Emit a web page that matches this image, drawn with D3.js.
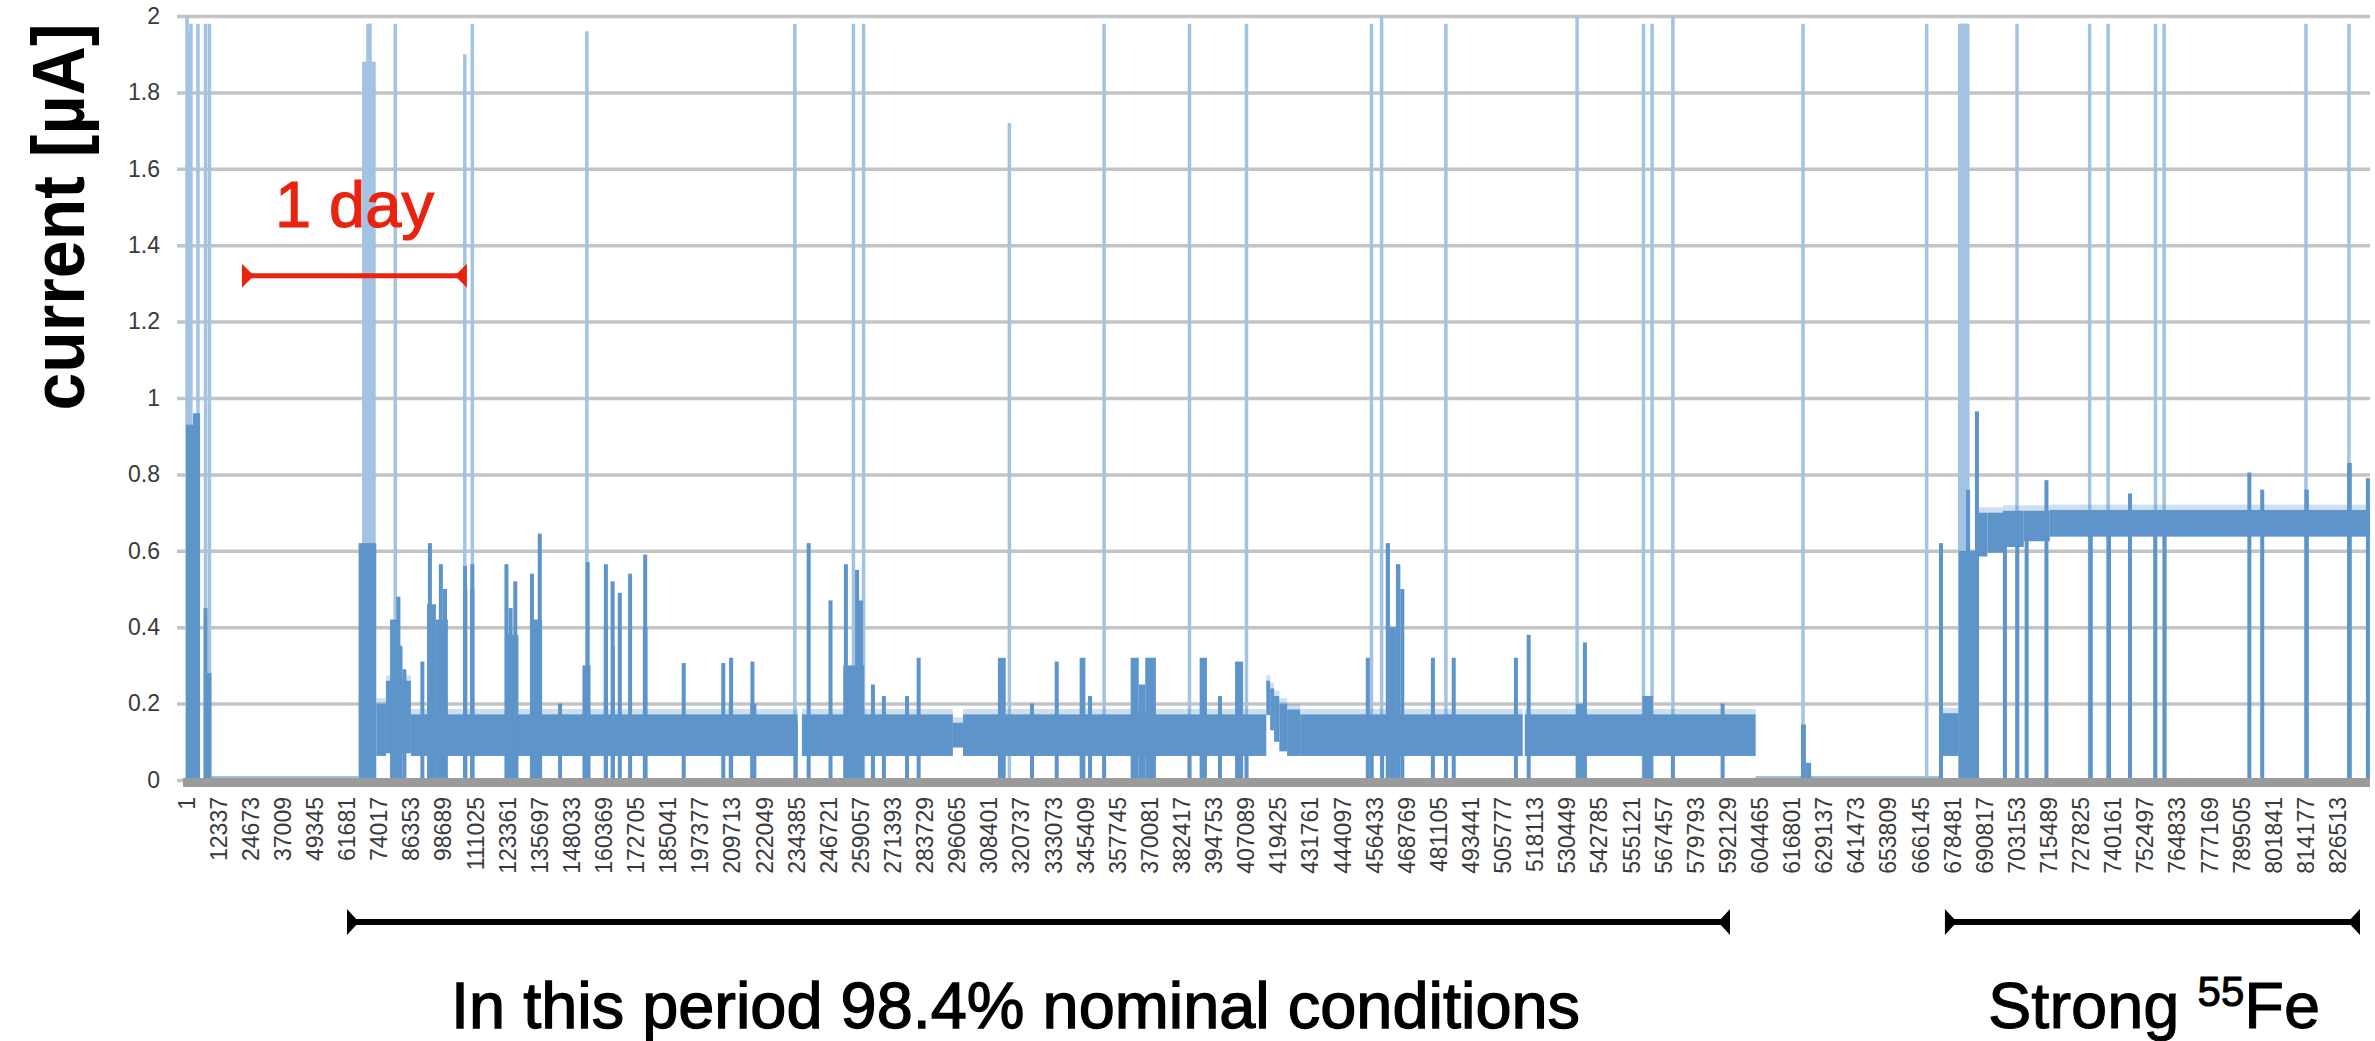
<!DOCTYPE html>
<html>
<head>
<meta charset="utf-8">
<script src="https://cdn.jsdelivr.net/npm/d3@7/dist/d3.min.js"></script>
<style>
  html, body { margin: 0; padding: 0; background: #ffffff; }
  svg { display: block; }
  text { font-family: "Liberation Sans", Arial, Helvetica, sans-serif; }
</style>
</head>
<body>
<svg id="chart" width="2375" height="1041"></svg>
<script>
// ---- data: detector current, one reading per second ----
const sampleCount = 839000;

// category labels printed under the axis (every 12336 readings)
const tickLabels = [1, 12337, 24673, 37009, 49345, 61681, 74017, 86353, 98689, 111025,
  123361, 135697, 148033, 160369, 172705, 185041, 197377, 209713, 222049, 234385,
  246721, 259057, 271393, 283729, 296065, 308401, 320737, 333073, 345409, 357745,
  370081, 382417, 394753, 407089, 419425, 431761, 444097, 456433, 468769, 481105,
  493441, 505777, 518113, 530449, 542785, 555121, 567457, 579793, 592129, 604465,
  616801, 629137, 641473, 653809, 666145, 678481, 690817, 703153, 715489, 727825,
  740161, 752497, 764833, 777169, 789505, 801841, 814177, 826513];

const currentTicks = [0, 0.2, 0.4, 0.6, 0.8, 1, 1.2, 1.4, 1.6, 1.8, 2];

// dense noise band of the readings: [first sample, last sample, low µA, high µA]
const noiseBand = [
  [73100, 76800, 0.063, 0.20],
  [76800, 79000, 0.07, 0.26],
  [79000, 83000, 0.08, 0.34],
  [83000, 86400, 0.07, 0.26],
  [86400, 235000, 0.063, 0.172],
  [236600, 294600, 0.063, 0.172],
  [294600, 298500, 0.085, 0.15],
  [298500, 415000, 0.063, 0.172],
  [415000, 416500, 0.17, 0.26],
  [416500, 418000, 0.13, 0.24],
  [418000, 420000, 0.10, 0.22],
  [420000, 423000, 0.075, 0.20],
  [423000, 428000, 0.063, 0.185],
  [428000, 513500, 0.063, 0.172],
  [514300, 603000, 0.063, 0.172],
  [674600, 681000, 0.063, 0.175],
  [688800, 692000, 0.585, 0.70],
  [692000, 698000, 0.595, 0.70],
  [698000, 706000, 0.61, 0.705],
  [706000, 716000, 0.625, 0.705],
  [716000, 839000, 0.637, 0.707]
];

// stretches where the reading sat at zero: [first sample, last sample]
const zeroRuns = [[9800, 66300], [603000, 674200]];

// dense bursts reaching from 0 up to a peak: [first sample, last sample, peak µA]
const bursts = [
  [0, 2700, 0.93], [2700, 5400, 0.96], [6900, 9800, 0.28], [7300, 7700, 0.45],
  [66300, 73100, 0.62],
  [78400, 81600, 0.42], [81600, 81600, 0.48], [82400, 82400, 0.35], [83900, 83900, 0.29],
  [90800, 90800, 0.31],
  [92600, 96000, 0.46], [93700, 93700, 0.62],
  [96000, 100600, 0.42], [97900, 97900, 0.565], [99500, 99500, 0.50],
  [106600, 108000, 0.50], [107200, 107200, 0.56],
  [109200, 110800, 0.50], [110000, 110000, 0.565],
  [122900, 127700, 0.38], [123100, 123100, 0.565], [124700, 124700, 0.45], [126500, 126500, 0.52],
  [132600, 136800, 0.42], [132900, 132900, 0.54], [135900, 135900, 0.645],
  [143700, 143700, 0.20],
  [152300, 155400, 0.30], [154300, 154300, 0.57],
  [160500, 162100, 0.40], [161300, 161300, 0.565],
  [163500, 164500, 0.35], [163900, 163900, 0.52],
  [166300, 167000, 0.49],
  [170200, 171000, 0.54],
  [175500, 177300, 0.40], [176400, 176400, 0.59],
  [191200, 191200, 0.306],
  [206400, 206400, 0.306], [208500, 210100, 0.20], [209400, 209400, 0.32],
  [216800, 219100, 0.20], [217600, 217600, 0.31],
  [233500, 235000, 0.15], [239200, 239200, 0.62],
  [247600, 247600, 0.47], [252500, 260500, 0.30], [253500, 253500, 0.565],
  [257800, 257800, 0.55], [259300, 259300, 0.47],
  [263900, 263900, 0.25], [268100, 268100, 0.22], [277000, 277000, 0.22],
  [280900, 282000, 0.32],
  [311900, 314900, 0.32],
  [325000, 325000, 0.20],
  [334500, 334500, 0.31],
  [343300, 345500, 0.32], [347300, 347300, 0.22],
  [352700, 352700, 0.17],
  [362900, 366000, 0.32], [366000, 368500, 0.25], [368500, 372600, 0.32],
  [385200, 385800, 0.17],
  [389400, 392200, 0.32],
  [397200, 397200, 0.22],
  [403000, 406100, 0.31],
  [407400, 407400, 0.17],
  [454000, 454000, 0.32], [455000, 456000, 0.17], [459000, 460000, 0.17],
  [460900, 462500, 0.62], [462500, 464800, 0.40], [464800, 466500, 0.565], [466500, 468000, 0.50],
  [479000, 479000, 0.32], [483500, 484500, 0.17], [487000, 487000, 0.32],
  [510900, 510900, 0.32], [515800, 515800, 0.38],
  [534000, 537400, 0.20], [537400, 537400, 0.36],
  [559500, 563500, 0.22],
  [570800, 571600, 0.17],
  [590300, 590300, 0.20],
  [620400, 622300, 0.145], [622300, 624300, 0.045],
  [674200, 674200, 0.62],
  [681000, 684800, 0.60], [684600, 684600, 0.76],
  [684800, 688800, 0.60], [688000, 688000, 0.965],
  [698000, 699500, 0.66], [703000, 704000, 0.66], [707100, 707100, 0.66],
  [714700, 714700, 0.785], [730800, 732500, 0.66], [737800, 739500, 0.66],
  [746800, 746800, 0.75], [755800, 757200, 0.66], [759500, 760700, 0.66],
  [792300, 793000, 0.805], [797600, 797600, 0.76],
  [813800, 815500, 0.76], [830200, 832000, 0.83], [838200, 838200, 0.79]
];

// isolated single readings that shot up: [sample, peak µA]
const spikes = [
  [400, 2.0], [1150, 1.96], [1900, 1.98], [4600, 1.98], [7500, 1.98], [9000, 1.98],
  [68300, 1.88], [69100, 1.88], [69900, 1.98], [70700, 1.98], [71500, 1.88], [72200, 1.88],
  [80400, 1.98], [107100, 1.90], [110000, 1.98], [154000, 1.96], [233900, 1.98],
  [256400, 1.98], [260300, 1.98], [316300, 1.72], [352700, 1.98], [385500, 1.98],
  [407400, 1.98], [455400, 1.98], [459300, 2.0], [484000, 1.98], [534400, 2.0],
  [559900, 1.98], [563200, 1.98], [571200, 2.0], [621200, 1.98], [668700, 1.98],
  [681400, 1.98], [682200, 1.98], [683000, 1.98], [683800, 1.98], [684500, 1.98],
  [703400, 1.98], [731300, 1.98], [738400, 1.98], [756600, 1.98], [759900, 1.98],
  [814400, 1.98], [830900, 1.98]
];

// annotations (in readings): one day = 86400 one-second readings
const dayMarker = { start: 21500, length: 86400, level: 1.32, textLevel: 1.447, label: "1 day" };
const periods = [
  { start: 61850, end: 593150, label: "In this period 98.4% nominal conditions" },
  { start: 675700, end: 835150, label: "Strong", sup: "55", tail: "Fe" }
];

// ---- drawing ----
const svg = d3.select("#chart");
const x = d3.scaleLinear().domain([0, sampleCount]).range([186, 2370]);
const y = d3.scaleLinear().domain([0, 2]).range([780, 16]);
const blue = "#5d94c9";
const lightBlue = "#a3c3e3";

// horizontal gridlines
const grid = svg.append("g").attr("transform", "translate(177,0)")
  .call(d3.axisLeft(y).tickValues(currentTicks).tickSize(-(2370 - 177)).tickFormat(""));
grid.select(".domain").remove();
grid.selectAll(".tick line").attr("stroke", "#c4c4c4").attr("stroke-width", 3.5);

// tall single-reading spikes
svg.append("g").selectAll("line").data(spikes).join("line")
  .attr("x1", d => x(d[0])).attr("x2", d => x(d[0]))
  .attr("y1", y(0)).attr("y2", d => y(d[1]))
  .attr("stroke", lightBlue).attr("stroke-width", 3.5);

// readings sitting at zero
svg.append("g").selectAll("line").data(zeroRuns).join("line")
  .attr("x1", d => x(d[0])).attr("x2", d => x(d[1]))
  .attr("y1", y(0)).attr("y2", y(0))
  .attr("stroke", "#9dbfe0").attr("stroke-width", 8);

// noise band, with a ragged fringe above it
svg.append("g").selectAll("rect").data(noiseBand).join("rect")
  .attr("x", d => x(d[0])).attr("width", d => x(d[1]) - x(d[0]))
  .attr("y", d => y(d[3] + 0.014)).attr("height", d => y(d[3]) - y(d[3] + 0.014))
  .attr("fill", blue).attr("opacity", 0.3);
svg.append("g").selectAll("rect").data(noiseBand).join("rect")
  .attr("x", d => x(d[0])).attr("width", d => x(d[1]) - x(d[0]))
  .attr("y", d => y(d[3])).attr("height", d => y(d[2]) - y(d[3]))
  .attr("fill", blue);

// bursts reaching down to zero
svg.append("g").selectAll("rect").data(bursts).join("rect")
  .attr("x", d => Math.min(x(d[0]), (x(d[0]) + x(d[1])) / 2 - 2))
  .attr("width", d => Math.max(x(d[1]) - x(d[0]), 4))
  .attr("y", d => y(d[2])).attr("height", d => y(0) - y(d[2]))
  .attr("fill", blue);

// category axis bar
svg.append("rect").attr("x", 183).attr("width", 2370 - 183)
  .attr("y", 778).attr("height", 9).attr("fill", "#9b9b9b");

// y tick labels
const yAxis = svg.append("g").attr("transform", "translate(160,0)")
  .call(d3.axisLeft(y).tickValues(currentTicks).tickSize(0).tickPadding(0)
    .tickFormat(d => String(+d.toFixed(1))));
yAxis.select(".domain").remove();
yAxis.selectAll("text").attr("font-size", 23).attr("fill", "#3a3a3a")
  .attr("font-family", "Liberation Sans, Arial, sans-serif");

// x tick labels, rotated
const xAxis = svg.append("g").attr("transform", "translate(0,797)")
  .call(d3.axisBottom(x).tickValues(tickLabels).tickSize(0).tickFormat(d => String(d)));
xAxis.select(".domain").remove();
xAxis.selectAll("text")
  .attr("y", 0).attr("x", 0).attr("dy", "0.35em")
  .attr("transform", "rotate(-90)").attr("text-anchor", "end")
  .attr("font-size", 23).attr("fill", "#3a3a3a")
  .attr("font-family", "Liberation Sans, Arial, sans-serif");

// y axis title (slightly condensed bold face)
svg.append("text")
  .attr("transform", "translate(84,217) rotate(-90) scale(0.92,1)")
  .attr("text-anchor", "middle")
  .attr("font-size", 74).attr("font-weight", "bold").attr("fill", "#000")
  .text("current [µA]");

// bracket with inward-pointing end triangles
function bracket(g, x0, x1, yy, color, lw, th, td) {
  g.append("line").attr("x1", x0 + 2).attr("x2", x1 - 2).attr("y1", yy).attr("y2", yy)
    .attr("stroke", color).attr("stroke-width", lw);
  g.append("path").attr("fill", color)
    .attr("d", `M${x0},${yy - th / 2}L${x0 + td},${yy}L${x0},${yy + th / 2}Z`);
  g.append("path").attr("fill", color)
    .attr("d", `M${x1},${yy - th / 2}L${x1 - td},${yy}L${x1},${yy + th / 2}Z`);
}

// one-day scale marker
const red = "#e8230f";
const dayG = svg.append("g");
const d0 = x(dayMarker.start), d1 = x(dayMarker.start + dayMarker.length);
bracket(dayG, d0, d1, y(dayMarker.level), red, 5, 24, 12);
dayG.append("text").attr("x", (d0 + d1) / 2).attr("y", y(dayMarker.textLevel))
  .attr("text-anchor", "middle").attr("font-size", 65).attr("fill", red)
  .attr("stroke", red).attr("stroke-width", 1.2)
  .text(dayMarker.label);

// period brackets under the axis
const perG = svg.append("g");
periods.forEach(p => bracket(perG, x(p.start), x(p.end), 922, "#000", 6, 26, 12));
perG.append("text").attr("x", 451).attr("y", 1028)
  .attr("font-size", 64).attr("fill", "#000").attr("stroke", "#000").attr("stroke-width", 1.3)
  .attr("textLength", 1129).attr("lengthAdjust", "spacingAndGlyphs")
  .text(periods[0].label);
const fe = perG.append("text").attr("x", 1988).attr("y", 1028)
  .attr("font-size", 65).attr("fill", "#000").attr("stroke", "#000").attr("stroke-width", 1);
fe.append("tspan").text(periods[1].label + " ");
fe.append("tspan").attr("font-size", 42).attr("dy", -22).text(periods[1].sup);
fe.append("tspan").attr("dy", 22).text(periods[1].tail);
</script>
</body>
</html>
